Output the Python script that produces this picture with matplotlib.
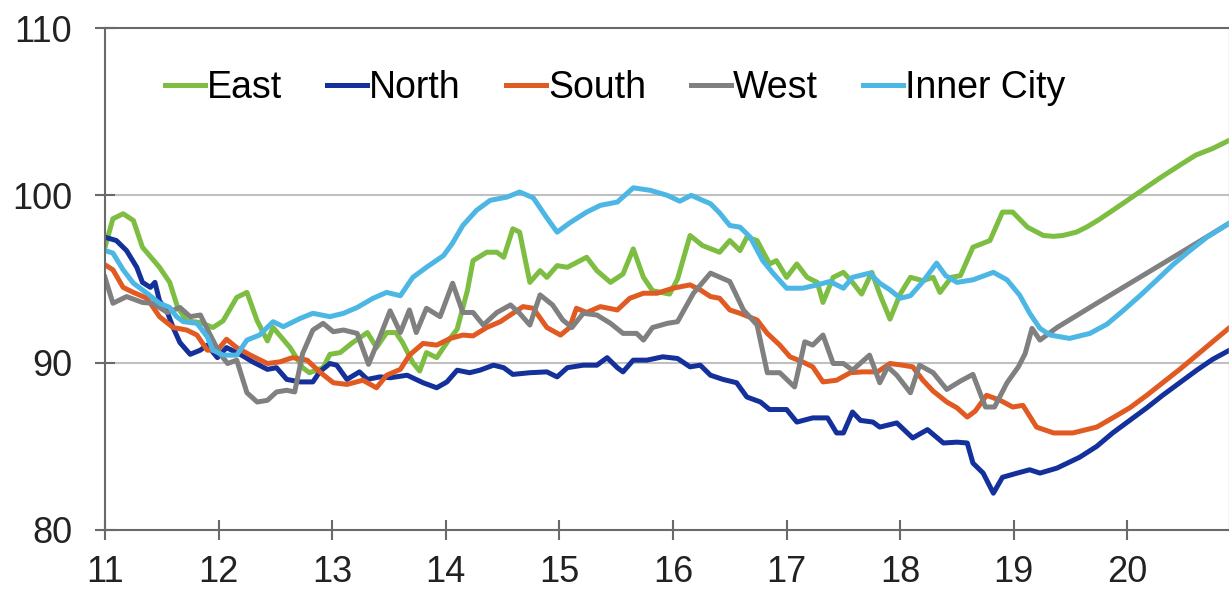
import numpy as np
import matplotlib.pyplot as plt

"""
Regional index, 2011 to 2020 (history + forecast)
"""

plt.rcParams['font.family'] = ['Liberation Sans', 'DejaVu Sans']

east_x = [11.00, 11.07, 11.16, 11.25, 11.33, 11.48, 11.57, 11.64, 11.72, 11.84, 11.95,
          12.04, 12.16, 12.25, 12.34, 12.43, 12.48, 12.63, 12.74, 12.80, 12.92, 12.98,
          13.07, 13.18, 13.31, 13.39, 13.48, 13.56, 13.62, 13.71, 13.77, 13.83, 13.92,
          14.01, 14.10, 14.19, 14.24, 14.36, 14.45, 14.51, 14.59, 14.65, 14.74, 14.83,
          14.89, 14.98, 15.07, 15.24, 15.33, 15.45, 15.56, 15.65, 15.74, 15.82, 15.97,
          16.04, 16.15, 16.26, 16.41, 16.50, 16.59, 16.65, 16.74, 16.85, 16.91, 17.00,
          17.09, 17.18, 17.27, 17.32, 17.41, 17.50, 17.58, 17.66, 17.75, 17.82, 17.91,
          18.00, 18.09, 18.20, 18.29, 18.35, 18.45, 18.53, 18.64, 18.79, 18.90, 18.99,
          19.12, 19.26, 19.35, 19.43, 19.55, 19.64, 19.75, 19.87, 20.00, 20.17, 20.30,
          20.46, 20.60, 20.75, 20.90]
east_y = [96.9, 98.6, 98.9, 98.5, 96.9, 95.7, 94.8, 93.3, 92.5, 92.4, 92.1,
          92.5, 93.9, 94.2, 92.5, 91.3, 92.1, 90.9, 89.7, 89.4, 89.7, 90.5,
          90.6, 91.2, 91.8, 90.9, 91.8, 91.8, 91.2, 90.0, 89.5, 90.6, 90.3,
          91.2, 92.0, 94.3, 96.1, 96.6, 96.6, 96.3, 98.0, 97.8, 94.8, 95.5,
          95.1, 95.8, 95.7, 96.3, 95.5, 94.8, 95.3, 96.8, 95.1, 94.3, 94.1,
          95.0, 97.6, 97.0, 96.6, 97.3, 96.7, 97.5, 97.3, 95.9, 96.1, 95.1,
          95.9, 95.1, 94.8, 93.6, 95.1, 95.4, 94.8, 94.1, 95.4, 94.1, 92.6,
          94.1, 95.1, 94.9, 95.1, 94.2, 95.1, 95.2, 96.9, 97.3, 99.0, 99.0,
          98.1, 97.6, 97.55, 97.6, 97.8, 98.1, 98.55, 99.1, 99.7, 100.5, 101.1,
          101.8, 102.4, 102.8, 103.3]

north_x = [11.00, 11.10, 11.19, 11.28, 11.33, 11.40, 11.44, 11.48, 11.55, 11.60, 11.66,
           11.75, 11.84, 11.90, 11.99, 12.07, 12.19, 12.30, 12.43, 12.51, 12.60, 12.72,
           12.83, 12.89, 12.98, 13.04, 13.13, 13.24, 13.31, 13.42, 13.51, 13.66, 13.80,
           13.92, 14.01, 14.10, 14.21, 14.30, 14.42, 14.51, 14.59, 14.74, 14.89, 14.98,
           15.07, 15.21, 15.33, 15.42, 15.51, 15.56, 15.65, 15.77, 15.91, 16.04, 16.15,
           16.24, 16.33, 16.44, 16.56, 16.65, 16.77, 16.85, 17.00, 17.09, 17.23, 17.36,
           17.44, 17.50, 17.58, 17.65, 17.76, 17.82, 17.97, 18.11, 18.24, 18.38, 18.50,
           18.59, 18.64, 18.73, 18.82, 18.90, 19.03, 19.14, 19.23, 19.38, 19.58, 19.73,
           19.87, 20.02, 20.17, 20.31, 20.46, 20.61, 20.75, 20.90]
north_y = [97.5, 97.3, 96.7, 95.7, 94.8, 94.5, 94.8, 93.7, 93.0, 92.1, 91.2,
           90.5, 90.75, 91.05, 90.3, 90.9, 90.5, 90.05, 89.6, 89.7, 89.0, 88.85,
           88.85, 89.45, 89.95, 89.85, 89.0, 89.45, 89.0, 89.15, 89.1, 89.25, 88.8,
           88.5, 88.85, 89.55, 89.4, 89.55, 89.85, 89.7, 89.3, 89.4, 89.45, 89.15,
           89.7, 89.85, 89.85, 90.3, 89.7, 89.45, 90.15, 90.15, 90.35, 90.25, 89.75,
           89.85, 89.25, 89.0, 88.8, 87.95, 87.65, 87.2, 87.2, 86.45, 86.7, 86.7,
           85.8, 85.8, 87.05, 86.55, 86.45, 86.15, 86.4, 85.5, 86.0, 85.2, 85.25,
           85.2, 84.0, 83.4, 82.2, 83.15, 83.4, 83.6, 83.4, 83.7, 84.35, 85.0,
           85.8, 86.55, 87.3, 88.05, 88.8, 89.55, 90.2, 90.75]

south_x = [11.00, 11.07, 11.16, 11.25, 11.37, 11.48, 11.60, 11.72, 11.81, 11.90, 11.99,
           12.07, 12.16, 12.28, 12.43, 12.54, 12.65, 12.78, 12.89, 13.01, 13.13, 13.27,
           13.39, 13.48, 13.60, 13.68, 13.80, 13.92, 14.04, 14.15, 14.24, 14.36, 14.48,
           14.59, 14.68, 14.77, 14.89, 15.01, 15.09, 15.15, 15.24, 15.36, 15.51, 15.62,
           15.74, 15.86, 16.00, 16.15, 16.24, 16.33, 16.41, 16.50, 16.59, 16.74, 16.83,
           16.94, 17.03, 17.14, 17.23, 17.32, 17.44, 17.56, 17.67, 17.80, 17.91, 18.02,
           18.11, 18.20, 18.29, 18.41, 18.50, 18.59, 18.66, 18.76, 18.88, 18.99, 19.08,
           19.20, 19.35, 19.52, 19.73, 19.87, 20.02, 20.17, 20.31, 20.46, 20.61, 20.75,
           20.90]
south_y = [95.85, 95.55, 94.5, 94.2, 93.85, 92.75, 92.1, 91.95, 91.65, 90.75, 90.75,
           91.4, 90.9, 90.45, 89.95, 90.05, 90.3, 90.15, 89.45, 88.8, 88.7, 88.95,
           88.5, 89.25, 89.6, 90.45, 91.15, 91.05, 91.45, 91.65, 91.6, 92.1, 92.45,
           92.95, 93.35, 93.25, 92.1, 91.65, 92.1, 93.25, 93.0, 93.35, 93.15, 93.85,
           94.15, 94.15, 94.45, 94.65, 94.35, 93.95, 93.85, 93.15, 92.95, 92.55, 91.75,
           91.05, 90.35, 90.05, 89.75, 88.85, 88.95, 89.4, 89.45, 89.45, 89.95, 89.85,
           89.75, 88.95, 88.3, 87.65, 87.3, 86.75, 87.1, 88.05, 87.75, 87.35, 87.45,
           86.15, 85.8, 85.8, 86.15, 86.7, 87.3, 88.05, 88.8, 89.6, 90.45, 91.25,
           92.1]

west_x = [11.00, 11.07, 11.19, 11.33, 11.42, 11.55, 11.66, 11.75, 11.84, 11.92, 12.01,
          12.08, 12.16, 12.25, 12.34, 12.43, 12.51, 12.60, 12.67, 12.74, 12.83, 12.92,
          13.01, 13.10, 13.22, 13.32, 13.42, 13.51, 13.60, 13.68, 13.74, 13.83, 13.95,
          14.06, 14.15, 14.24, 14.33, 14.45, 14.57, 14.65, 14.74, 14.83, 14.94, 15.03,
          15.11, 15.21, 15.33, 15.45, 15.56, 15.68, 15.74, 15.82, 15.95, 16.04, 16.18,
          16.33, 16.50, 16.62, 16.74, 16.83, 16.94, 17.07, 17.16, 17.23, 17.32, 17.41,
          17.50, 17.58, 17.73, 17.82, 17.89, 17.97, 18.09, 18.17, 18.29, 18.41, 18.53,
          18.64, 18.75, 18.83, 18.94, 19.04, 19.10, 19.16, 19.23, 19.38, 19.73, 20.17,
          20.61, 20.90]
west_y = [95.1, 93.55, 93.95, 93.6, 93.55, 93.0, 93.3, 92.75, 92.85, 91.75, 90.55,
          89.95, 90.15, 88.2, 87.65, 87.75, 88.25, 88.35, 88.25, 90.55, 91.95, 92.35,
          91.85, 91.95, 91.75, 89.9, 91.55, 93.1, 91.8, 93.15, 91.8, 93.25, 92.75,
          94.75, 93.0, 93.0, 92.25, 93.0, 93.45, 92.95, 92.25, 94.05, 93.45, 92.55,
          92.1, 92.95, 92.85, 92.35, 91.75, 91.75, 91.35, 92.1, 92.35, 92.45, 94.15,
          95.35, 94.85, 93.15, 92.25, 89.4, 89.4, 88.55, 91.25, 91.05, 91.65, 89.95,
          89.95, 89.55, 90.45, 88.8, 89.75, 89.25, 88.2, 89.85, 89.4, 88.4, 88.9,
          89.3, 87.35, 87.35, 88.8, 89.75, 90.55, 92.05, 91.35, 92.1, 93.55, 95.35,
          97.15, 98.35]

inner_x = [11.00, 11.07, 11.16, 11.25, 11.37, 11.48, 11.57, 11.63, 11.69, 11.81, 11.90,
           11.95, 12.04, 12.16, 12.25, 12.36, 12.48, 12.57, 12.72, 12.83, 12.98, 13.10,
           13.22, 13.36, 13.48, 13.60, 13.71, 13.83, 13.98, 14.06, 14.15, 14.27, 14.39,
           14.54, 14.65, 14.77, 14.89, 14.98, 15.09, 15.24, 15.36, 15.51, 15.65, 15.80,
           15.95, 16.06, 16.16, 16.33, 16.41, 16.50, 16.59, 16.68, 16.79, 16.88, 17.00,
           17.14, 17.27, 17.38, 17.50, 17.58, 17.73, 17.82, 17.91, 18.00, 18.09, 18.20,
           18.32, 18.40, 18.50, 18.64, 18.82, 18.94, 19.05, 19.14, 19.23, 19.32, 19.49,
           19.67, 19.82, 19.96, 20.11, 20.26, 20.40, 20.55, 20.70, 20.90]
inner_y = [96.7, 96.55, 95.55, 94.75, 94.15, 93.55, 93.3, 92.75, 92.45, 92.35, 91.55,
           90.75, 90.45, 90.45, 91.35, 91.65, 92.45, 92.15, 92.65, 92.95, 92.75, 92.95,
           93.3, 93.85, 94.2, 94.0, 95.1, 95.7, 96.4, 97.15, 98.2, 99.1, 99.7,
           99.9, 100.2, 99.85, 98.65, 97.8, 98.35, 99.0, 99.4, 99.6, 100.45, 100.3,
           100.0, 99.65, 100.0, 99.5, 98.95, 98.2, 98.1, 97.5, 96.1, 95.35, 94.45,
           94.45, 94.65, 94.85, 94.45, 95.1, 95.35, 94.75, 94.35, 93.85, 94.0, 94.85,
           95.95, 95.2, 94.8, 94.95, 95.4, 94.95, 94.05, 92.95, 92.05, 91.65, 91.45,
           91.75, 92.3, 93.1, 94.0, 94.95, 95.85, 96.7, 97.5, 98.35]

regions = ["East", "North", "South", "West", "Inner City"]
colors = ["#7cbd42", "#14309a", "#e05a22", "#808080", "#4cb6e4"]

fig = plt.figure(figsize=(12.29, 5.9), dpi=100)
ax = fig.add_axes([0.0854, 0.1017, 0.9146, 0.8508])

for y in (90, 100):
    ax.axhline(y, color="#c0c0c0", lw=1.5, zorder=0)

series = [(east_x, east_y), (north_x, north_y), (south_x, south_y),
          (west_x, west_y), (inner_x, inner_y)]
for (x, y), name, c in zip(series, regions, colors):
    ax.plot(x, y, color=c, lw=3.6, label=name, solid_joinstyle='round')

ax.set_xlim(11, 20.894)
ax.set_ylim(80, 110)
ax.set_xticks(np.arange(11, 21))
ax.set_yticks([80, 90, 100, 110])

for s in ("left", "bottom", "top"):
    ax.spines[s].set_color("#6a6a6a")
    ax.spines[s].set_linewidth(1.5)
ax.spines["right"].set_color("#d0d0d0")
ax.spines["right"].set_linewidth(1.0)

ax.tick_params(axis="both", direction="inout", length=15, width=1.5,
               color="#6a6a6a", labelsize=26, labelcolor="#222222")
ax.tick_params(axis="x", pad=10.5)
ax.tick_params(axis="y", pad=16)

ax.legend(loc="center left", bbox_to_anchor=(165 / 1229, 1 - 88 / 590),
          bbox_transform=fig.transFigure, ncol=5, frameon=False, fontsize=27,
          handlelength=1.07, handletextpad=0.05, columnspacing=1.2,
          borderpad=0, borderaxespad=0)

plt.savefig("out.png", dpi=100)
